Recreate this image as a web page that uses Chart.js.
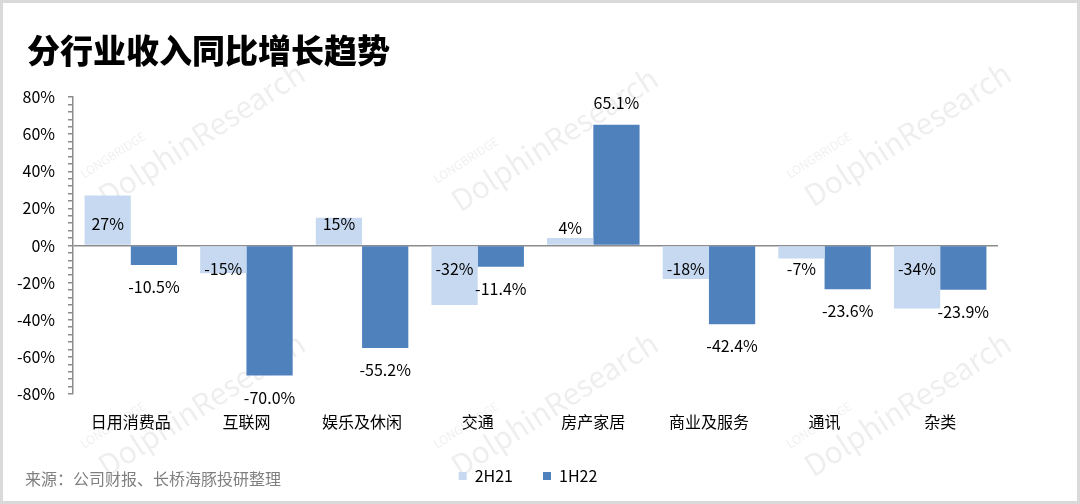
<!DOCTYPE html>
<html lang="zh">
<head>
<meta charset="UTF-8">
<title>分行业收入同比增长趋势</title>
<script src="https://cdn.jsdelivr.net/npm/chart.js"></script>
<style>
  html, body { margin: 0; padding: 0; background: #fff; }
  #wrap { position: relative; width: 1080px; height: 504px; overflow: hidden; font-family: "Noto Sans CJK SC", "Noto Sans", sans-serif; }
  #frame { position: absolute; left: 0; top: 0; width: 1080px; height: 504px; box-sizing: border-box; border: 3px solid #d9d9d9; pointer-events: none; }
  #title { position: absolute; left: 27px; top: 27px; font-size: 33px; font-weight: 900; color: #000; line-height: 44px; }
  #source { position: absolute; left: 25px; top: 466px; font-size: 16px; color: #7f7f7f; line-height: 24px; }
  canvas { position: absolute; left: 0; top: 0; }
</style>
</head>
<body>
<div id="wrap">
  <canvas id="chart" width="1080" height="504"></canvas>
  <div id="title">分行业收入同比增长趋势</div>
  <div id="source">来源：公司财报、长桥海豚投研整理</div>
  <div id="frame"></div>
</div>
<script>
// data
const categories = ['日用消费品', '互联网', '娱乐及休闲', '交通', '房产家居', '商业及服务', '通讯', '杂类'];
const h2_21 = [27, -15, 15, -32, 4, -18, -7, -34];
const h1_22 = [-10.5, -70.0, -55.2, -11.4, 65.1, -42.4, -23.6, -23.9];
const seriesNames = ['2H21', '1H22'];
const yTicks = [-80, -60, -40, -20, 0, 20, 40, 60, 80];

const FONT = '"Noto Sans CJK SC", "Noto Sans", sans-serif';

// faint watermark behind the bars
const watermark = {
  id: 'watermark',
  beforeDraw(chart) {
    const ctx = chart.ctx;
    const spots = [[192, 140], [545, 145], [898, 140], [192, 410], [545, 410], [898, 410]];
    ctx.save();
    spots.forEach(([x, y]) => {
      ctx.save();
      ctx.translate(x, y);
      ctx.rotate(-0.57);
      ctx.fillStyle = 'rgba(0,0,0,0.065)';
      ctx.textAlign = 'left';
      ctx.font = '12px ' + FONT;
      ctx.fillText('LONGBRIDGE', -112, -30);
      ctx.font = '30px ' + FONT;
      ctx.fillText('DolphinResearch', -108, 0);
      ctx.restore();
    });
    ctx.restore();
  }
};

// value labels
const valueLabels = {
  id: 'valueLabels',
  afterDatasetsDraw(chart) {
    const ctx = chart.ctx;
    const zero = chart.scales.y.getPixelForValue(0);
    ctx.save();
    ctx.font = '16px ' + FONT;
    ctx.fillStyle = '#000';
    ctx.textAlign = 'center';
    ctx.textBaseline = 'middle';
    chart.data.datasets.forEach((ds, di) => {
      const meta = chart.getDatasetMeta(di);
      meta.data.forEach((bar, i) => {
        const v = ds.data[i];
        let y;
        if (di === 0) {
          if (v >= 0) y = (zero - bar.y) > 20 ? zero - 22 : bar.y - 10;
          else y = zero + 23;
        } else {
          y = v >= 0 ? bar.y - 22 : bar.y + 22;
        }
        const txt = di === 0 ? v + '%' : v.toFixed(1) + '%';
        ctx.fillText(txt, bar.x, y);
      });
    });
    ctx.restore();
  }
};

new Chart(document.getElementById('chart'), {
  type: 'bar',
  data: {
    labels: categories,
    datasets: [
      { label: seriesNames[0], data: h2_21, backgroundColor: '#c6d9f1', categoryPercentage: 0.8, barPercentage: 1.0 },
      { label: seriesNames[1], data: h1_22, backgroundColor: '#4f81bd', categoryPercentage: 0.8, barPercentage: 1.0 }
    ]
  },
  options: {
    responsive: false,
    animation: false,
    layout: { padding: { top: 97, right: 24, bottom: 10, left: 0 } },
    plugins: {
      legend: {
        position: 'bottom',
        labels: { boxWidth: 8, boxHeight: 8, padding: 30, color: '#000', font: { family: FONT, size: 16 } }
      },
      tooltip: { enabled: false }
    },
    scales: {
      x: {
        grid: { display: false },
        border: { display: false },
        ticks: { color: '#000', padding: 10, font: { family: FONT, size: 16 } },
        afterFit(scale) { scale.height = 44; }
      },
      y: {
        min: -80,
        max: 80,
        afterFit(scale) { scale.width = 73; },
        afterBuildTicks(scale) {
          const t = [];
          for (let v = -80; v <= 80; v += 4) t.push({ value: v });
          scale.ticks = t;
        },
        grid: {
          color: ctx => (ctx.tick && ctx.tick.value === 0 ? '#8c8c8c' : 'rgba(0,0,0,0)'),
          lineWidth: 1.5,
          tickColor: '#8c8c8c',
          tickLength: 5
        },
        border: { color: '#8c8c8c', width: 1.5 },
        ticks: {
          autoSkip: false,
          padding: 13,
          color: '#000',
          font: { family: FONT, size: 16 },
          callback: v => (yTicks.includes(v) ? v + '%' : '')
        }
      },
      // empty right-hand spacer so the plot ends where the original does
      yRight: {
        position: 'right',
        display: true,
        grid: { display: false },
        border: { display: false },
        ticks: { display: false },
        afterFit(scale) { scale.width = 58; }
      }
    }
  },
  plugins: [watermark, valueLabels]
});
</script>
</body>
</html>
